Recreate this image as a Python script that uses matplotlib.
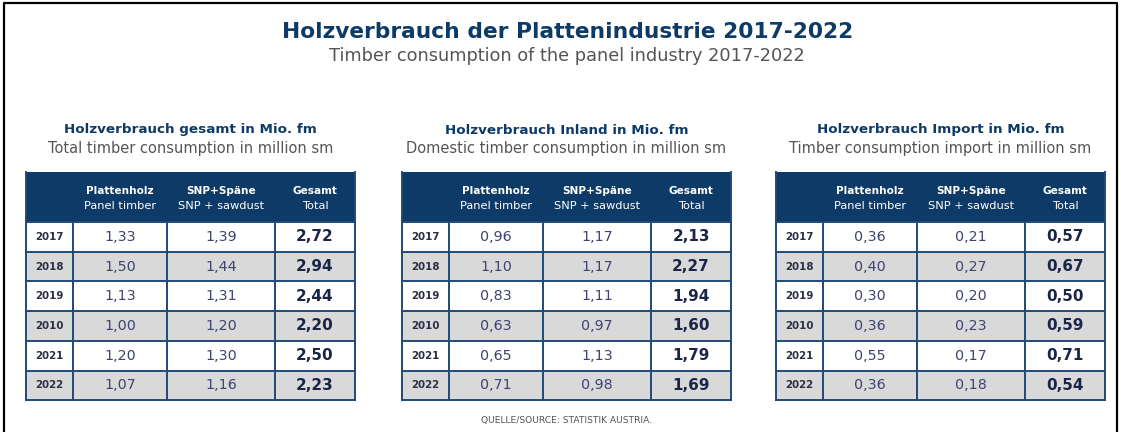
import matplotlib.pyplot as plt
from matplotlib.patches import Rectangle

plt.rcParams["font.family"] = ["DejaVu Sans"]

# ---- data ----
YEARS = ["2017", "2018", "2019", "2010", "2021", "2022"]

TOTAL_PANEL = ["1,33", "1,50", "1,13", "1,00", "1,20", "1,07"]
TOTAL_SNP = ["1,39", "1,44", "1,31", "1,20", "1,30", "1,16"]
TOTAL_SUM = ["2,72", "2,94", "2,44", "2,20", "2,50", "2,23"]

DOMESTIC_PANEL = ["0,96", "1,10", "0,83", "0,63", "0,65", "0,71"]
DOMESTIC_SNP = ["1,17", "1,17", "1,11", "0,97", "1,13", "0,98"]
DOMESTIC_SUM = ["2,13", "2,27", "1,94", "1,60", "1,79", "1,69"]

IMPORT_PANEL = ["0,36", "0,40", "0,30", "0,36", "0,55", "0,36"]
IMPORT_SNP = ["0,21", "0,27", "0,20", "0,23", "0,17", "0,18"]
IMPORT_SUM = ["0,57", "0,67", "0,50", "0,59", "0,71", "0,54"]

TABLE_TITLES = [
    ("Holzverbrauch gesamt in Mio. fm", "Total timber consumption in million sm"),
    ("Holzverbrauch Inland in Mio. fm", "Domestic timber consumption in million sm"),
    ("Holzverbrauch Import in Mio. fm", "Timber consumption import in million sm"),
]
COL_HEADERS = [
    ("Plattenholz", "Panel timber"),
    ("SNP+Späne", "SNP + sawdust"),
    ("Gesamt", "Total"),
]

TITLE = "Holzverbrauch der Plattenindustrie 2017-2022"
SUBTITLE = "Timber consumption of the panel industry 2017-2022"
SOURCE = "QUELLE/SOURCE: STATISTIK AUSTRIA."

# ---- layout (pixels) ----
W, H = 1121, 432
NAVY = "#0d3a66"
GRID = "#1f4a78"
GRAY_ROW = "#d9d9d9"
TEXT_VAL = "#3e4370"
TEXT_BOLD = "#1b2547"

TABLE_LEFTS = [26, 402, 776]
COL_WIDTHS = [47, 94, 108, 80]
HEAD_TOP = 172
HEAD_H = 50
ROW_H = 29.7

fig = plt.figure(figsize=(W / 100, H / 100), dpi=100)
ax = fig.add_axes([0, 0, 1, 1])
ax.set_xlim(0, W)
ax.set_ylim(H, 0)
ax.axis("off")

# outer frame
ax.plot([4, 4, 1117, 1117], [H, 3, 3, H], color="black", lw=1.6)

ax.text(W / 2 + 7, 32, TITLE, ha="center", va="center", fontsize=15.7,
        fontweight="bold", color=NAVY)
ax.text(W / 2 + 6, 56, SUBTITLE, ha="center", va="center", fontsize=12.8,
        color="#555555")


def draw_table(left, titles, panel, snp, total):
    width = sum(COL_WIDTHS)
    cx = left + width / 2
    ax.text(cx, 130, titles[0], ha="center", va="center", fontsize=9.7,
            fontweight="bold", color=NAVY)
    ax.text(cx, 148, titles[1], ha="center", va="center", fontsize=10.5,
            color="#555555")

    ax.add_patch(Rectangle((left, HEAD_TOP), width, HEAD_H, facecolor=NAVY,
                           edgecolor="none"))
    xs = [left]
    for w in COL_WIDTHS:
        xs.append(xs[-1] + w)
    for i, (de, en) in enumerate(COL_HEADERS):
        mx = (xs[i + 1] + xs[i + 2]) / 2
        ax.text(mx, HEAD_TOP + 19, de, ha="center", va="center", fontsize=7.6,
                fontweight="bold", color="white")
        ax.text(mx, HEAD_TOP + 34, en, ha="center", va="center", fontsize=8.2,
                color="white")

    body_top = HEAD_TOP + HEAD_H
    for r, year in enumerate(YEARS):
        y0 = body_top + r * ROW_H
        fc = "white" if r % 2 == 0 else GRAY_ROW
        ax.add_patch(Rectangle((left, y0), width, ROW_H, facecolor=fc,
                               edgecolor="none"))
        cy = y0 + ROW_H / 2
        ax.text((xs[0] + xs[1]) / 2, cy, year, ha="center", va="center",
                fontsize=7.4, fontweight="bold", color="#2b2f45")
        ax.text((xs[1] + xs[2]) / 2, cy, panel[r], ha="center", va="center",
                fontsize=10.3, color=TEXT_VAL)
        ax.text((xs[2] + xs[3]) / 2, cy, snp[r], ha="center", va="center",
                fontsize=10.3, color=TEXT_VAL)
        ax.text((xs[3] + xs[4]) / 2, cy, total[r], ha="center", va="center",
                fontsize=11, fontweight="bold", color=TEXT_BOLD)

    bottom = body_top + len(YEARS) * ROW_H
    for r in range(len(YEARS) + 1):
        y = body_top + r * ROW_H
        ax.plot([left, xs[-1]], [y, y], color=GRID, lw=1.4)
    for x in xs:
        ax.plot([x, x], [body_top, bottom], color=GRID, lw=1.4)
    ax.plot([left, left], [HEAD_TOP, body_top], color=GRID, lw=1.4)
    ax.plot([xs[-1], xs[-1]], [HEAD_TOP, body_top], color=GRID, lw=1.4)


draw_table(TABLE_LEFTS[0], TABLE_TITLES[0], TOTAL_PANEL, TOTAL_SNP, TOTAL_SUM)
draw_table(TABLE_LEFTS[1], TABLE_TITLES[1], DOMESTIC_PANEL, DOMESTIC_SNP, DOMESTIC_SUM)
draw_table(TABLE_LEFTS[2], TABLE_TITLES[2], IMPORT_PANEL, IMPORT_SNP, IMPORT_SUM)

ax.text(567, 421, SOURCE, ha="center", va="center", fontsize=6.6,
        color="#555555")

fig.savefig("out.png", dpi=100)
